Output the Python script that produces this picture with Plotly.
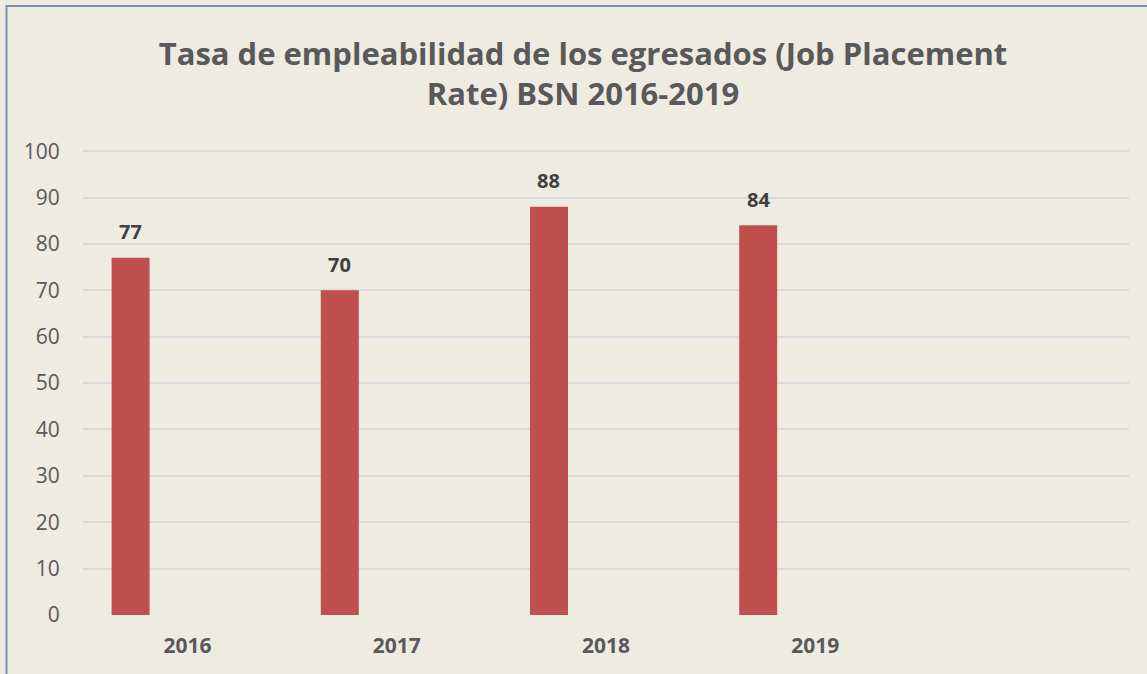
import plotly.graph_objects as go

categories = ["2016", "2017", "2018", "2019"]
values = [77, 70, 88, 84]
y_ticks = [0, 10, 20, 30, 40, 50, 60, 70, 80, 90, 100]
title_lines = ["Tasa de empleabilidad de los egresados (Job Placement", "Rate) BSN 2016-2019"]

BG = "#EEEBE0"
BAR = "#C0504D"
GRID = "#D9D9D9"
TXT = "#595959"
FONT = "Open Sans"

W, H = 1147, 674
ML, MR, MT, MB = 83, 18, 150, 59
n_slots = 5          # Excel category slots (last one empty)
n_series = 4         # clustered group with 4 series, only first holds data
bargap = 0.2734

fig = go.Figure()
fig.add_trace(go.Bar(x=categories, y=values, marker=dict(color=BAR, line=dict(width=0)),
                     name="Tasa", hoverinfo="x+y"))
for k in range(n_series - 1):
    fig.add_trace(go.Bar(x=categories, y=[None] * len(categories), showlegend=False,
                         marker=dict(color=BAR)))

# data labels above first-series bars
plot_w = W - ML - MR
plot_h = H - MT - MB
slot_w = plot_w / n_slots
bar_w = slot_w * (1 - bargap) / n_series
xshift = -(slot_w * (1 - bargap) / 2) + bar_w / 2
for i, v in enumerate(values):
    fig.add_annotation(x=i, y=v, xref="x", yref="y", text=f"<b>{v}</b>", showarrow=False,
                       xshift=xshift, yshift=26,
                       font=dict(family=FONT, size=20, color="#404040"))

fig.update_layout(
    width=W, height=H,
    margin=dict(l=ML, r=MR, t=MT, b=MB, pad=0),
    paper_bgcolor=BG, plot_bgcolor=BG,
    barmode="group", bargap=bargap, bargroupgap=0,
    showlegend=False,
    title=dict(text="<b>" + "<br>".join(title_lines) + "</b>",
               x=583 / W, xanchor="center", y=1 - 65 / H, yanchor="top",
               font=dict(family=FONT, size=31, color=TXT)),
    xaxis=dict(type="category", range=[-0.5, n_slots - 0.5], showgrid=False,
               showline=False, zeroline=False,
               ticks="outside", ticklen=12, tickcolor="rgba(0,0,0,0)",
               tickfont=dict(family=FONT, size=21, color=TXT, weight="bold")),
    yaxis=dict(range=[0, 100.25], tickvals=y_ticks, showgrid=True, gridcolor=GRID,
               gridwidth=1.5, zeroline=False, showline=False,
               ticks="outside", ticklen=18, tickcolor="rgba(0,0,0,0)",
               tickfont=dict(family=FONT, size=21, color=TXT)),
    shapes=[dict(type="rect", xref="paper", yref="paper",
                 x0=(6.5 - ML) / plot_w, x1=(W + 20 - ML) / plot_w,
                 y0=-(MB + 20) / plot_h, y1=((H - MB) - 6) / plot_h,
                 line=dict(color="#7D90AD", width=2), fillcolor="rgba(0,0,0,0)", layer="above")],
)

fig.write_html("out.html", config={"displayModeBar": False},
               post_script="document.body.style.margin='0';")
